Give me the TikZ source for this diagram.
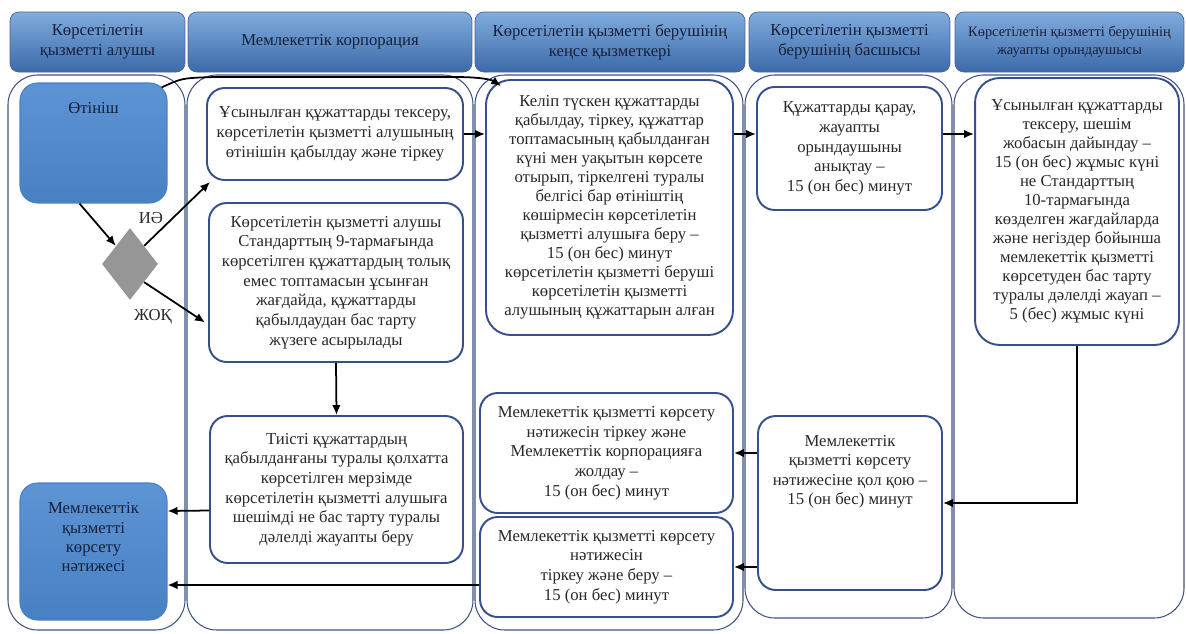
\documentclass[tikz,border=0pt]{standalone}
\usepackage{fontspec}
\setmainfont{Liberation Serif}
\usetikzlibrary{arrows.meta,positioning,shapes.geometric,calc}
\definecolor{hdtop}{RGB}{128,172,222}
\definecolor{hdmid}{RGB}{88,140,202}
\definecolor{hdbot}{RGB}{60,106,168}
\definecolor{hdline}{RGB}{70,100,150}
\definecolor{laneline}{RGB}{62,82,132}
\definecolor{boxline}{RGB}{55,80,140}
\definecolor{txtgray}{RGB}{40,40,40}
\definecolor{hdtext}{RGB}{22,32,58}
\definecolor{endtop}{RGB}{92,148,212}
\definecolor{endmid}{RGB}{120,170,226}
\definecolor{endbot}{RGB}{72,128,196}
\definecolor{decgray}{RGB}{150,150,150}
\tikzset{
 header/.style={rectangle,rounded corners=5pt,draw=hdline,top color=hdtop,middle color=hdmid,bottom color=hdbot,align=center,text=hdtext,font=\fontsize{9.5}{11.6}\selectfont,inner sep=0pt},
 lane/.style={draw=laneline,line width=0.6pt,rounded corners=17pt},
 stepbox/.style={rectangle,rounded corners=10pt,draw=boxline,line width=1.1pt,fill=white,align=center,text=txtgray,font=\fontsize{9.5}{11.2}\selectfont,inner sep=2pt},
 endbox/.style={rectangle,rounded corners=10pt,draw=endbot,line width=0.6pt,top color=endtop,middle color=endmid,bottom color=endbot},
 decision/.style={diamond,fill=decgray,draw=none,inner sep=0pt,minimum width=1.12cm,minimum height=1.44cm},
 arrow/.style={-{Latex[length=2mm,width=1.7mm]},line width=1pt,draw=black},
 lbl/.style={font=\fontsize{9.5}{11}\selectfont,text=txtgray,align=center}}

\begin{document}
\begin{tikzpicture}[x=0.02cm,y=-0.02cm]
\useasboundingbox (0,0) rectangle (1186,633);
\draw[lane] (8,75) rectangle (185,630);
\draw[lane] (187,75) rectangle (473,630);
\draw[lane] (475,75) rectangle (743,630);
\draw[lane] (745,75) rectangle (952,618);
\draw[lane] (954,75) rectangle (1184,618);
\node[header,minimum width=3.5cm,minimum height=1.2cm] (h1) at (97.5,42) {Көрсетілетін\\қызметті алушы};
\node[header,minimum width=5.68cm,minimum height=1.2cm] (h2) at (330,42) {Мемлекеттік корпорация};
\node[header,minimum width=5.4cm,minimum height=1.2cm] (h3) at (610,42) {Көрсетілетін қызметті берушінің\\кеңсе қызметкері};
\node[header,minimum width=4.02cm,minimum height=1.2cm] (h4) at (849.5,42) {Көрсетілетін қызметті\\берушінің басшысы};
\node[header,minimum width=4.58cm,minimum height=1.2cm,font=\fontsize{8.2}{10.4}\selectfont] (h5) at (1069.5,42) {Көрсетілетін қызметті берушінің\\жауапты орындаушысы};

\node[endbox,minimum width=2.94cm,minimum height=2.4cm,label={[anchor=north,yshift=-8pt,lbl,text=hdtext]north:Өтініш}] (app) at (93.5,143) {};
\node[decision] (dec) at (130,264) {};
\node[endbox,minimum width=2.94cm,minimum height=2.74cm,label={[anchor=north,yshift=-8pt,lbl,text=hdtext]north:Мемлекеттік\\қызметті\\көрсету\\нәтижесі}] (result) at (93.5,551.5) {};

\node[stepbox,minimum width=5.12cm,minimum height=1.84cm] (chk) at (335,134) {Ұсынылған құжаттарды тексеру,\\көрсетілетін қызметті алушының\\өтінішін қабылдау және тіркеу};
\node[stepbox,minimum width=5.08cm,minimum height=3.18cm] (refuse) at (336,282.5) {Көрсетілетін қызметті алушы\\Стандарттың 9-тармағында\\көрсетілген құжаттардың толық\\емес топтамасын ұсынған\\жағдайда, құжаттарды\\қабылдаудан бас тарту\\жүзеге асырылады};
\node[stepbox,minimum width=5.06cm,minimum height=2.94cm] (receipt) at (336.5,489.5) {Тиісті құжаттардың\\қабылданғаны туралы қолхатта\\көрсетілген мерзімде\\көрсетілетін қызметті алушыға\\шешімді не бас тарту туралы\\дәлелді жауапты беру};

\node[stepbox,minimum width=4.94cm,minimum height=5.1cm,rounded corners=14pt,font=\fontsize{9.5}{10.8}\selectfont] (accept) at (609.5,207.5) {Келіп түскен құжаттарды\\қабылдау, тіркеу, құжаттар\\топтамасының қабылданған\\күні мен уақытын көрсете\\отырып, тіркелгені туралы\\белгісі бар өтініштің\\көшірмесін көрсетілетін\\қызметті алушыға беру –\\15 (он бес) минут\\көрсетілетін қызметті беруші\\көрсетілетін қызметті\\алушының құжаттарын алған};
\node[stepbox,minimum width=5.06cm,minimum height=2.4cm] (send) at (606.5,453) {Мемлекеттік қызметті көрсету\\нәтижесін тіркеу және\\Мемлекеттік корпорацияға\\жолдау –\\15 (он бес) минут};
\node[stepbox,minimum width=5.06cm,minimum height=2cm] (issue) at (606.5,567) {Мемлекеттік қызметті көрсету\\нәтижесін\\тіркеу және беру –\\15 (он бес) минут};

\node[stepbox,minimum width=3.7cm,minimum height=2.46cm] (review) at (849.5,148.5) {Құжаттарды қарау,\\жауапты\\орындаушыны\\анықтау –\\15 (он бес) минут};
\node[stepbox,minimum width=3.68cm,minimum height=3.48cm,label={[anchor=north,yshift=-8pt,lbl]north:Мемлекеттік\\қызметті көрсету\\нәтижесіне қол қою –\\15 (он бес) минут}] (signres) at (850,503) {};

\node[stepbox,minimum width=4.08cm,minimum height=5.34cm,rounded corners=14pt,font=\fontsize{9.5}{10.8}\selectfont] (draft) at (1077,211.5) {Ұсынылған құжаттарды\\тексеру, шешім\\жобасын дайындау –\\15 (он бес) жұмыс күні\\не Стандарттың\\10-тармағында\\көзделген жағдайларда\\және негіздер бойынша\\мемлекеттік қызметті\\көрсетуден бас тарту\\туралы дәлелді жауап –\\5 (бес) жұмыс күні};

\draw[arrow] ($(app.north east)+(-6,5)$) .. controls (182,78) .. (215,77) -- (455,77) .. controls (482,77) and (492,80) .. ($(accept.north west)+(16,7)$);
\draw[arrow] ($(app.south west)+(60,0)$) -- (dec.north west);
\draw[arrow] (dec.north east) -- ($(chk.south west)+(4,1)$);
\draw[arrow] (dec.south east) -- ($(refuse.west)+(-3,40)$);
\node[lbl] (yes) at (151,218) {ИӘ};
\node[lbl] (no) at (153,317) {ЖОҚ};
\draw[arrow] (refuse.south) -- (receipt.north);
\draw[arrow] ($(receipt.west)+(0,21)$) -- ($(result.east)+(0,-40.5)$);
\draw[arrow] ($(issue.west)+(0,18)$) -- ($(result.east)+(0,33.5)$);
\draw[arrow] (chk.east) -- (chk.east -| accept.west); \draw[arrow] (accept.east |- chk.east) -- (chk.east -| review.west); \draw[arrow] (review.east |- chk.east) -- (chk.east -| draft.west);
\draw[arrow] (draft.south) |- (signres.east);
\draw[arrow] (signres.west |- send.east) -- (send.east); \draw[arrow] (signres.west |- issue.east) -- (issue.east);
\end{tikzpicture}
\end{document}
